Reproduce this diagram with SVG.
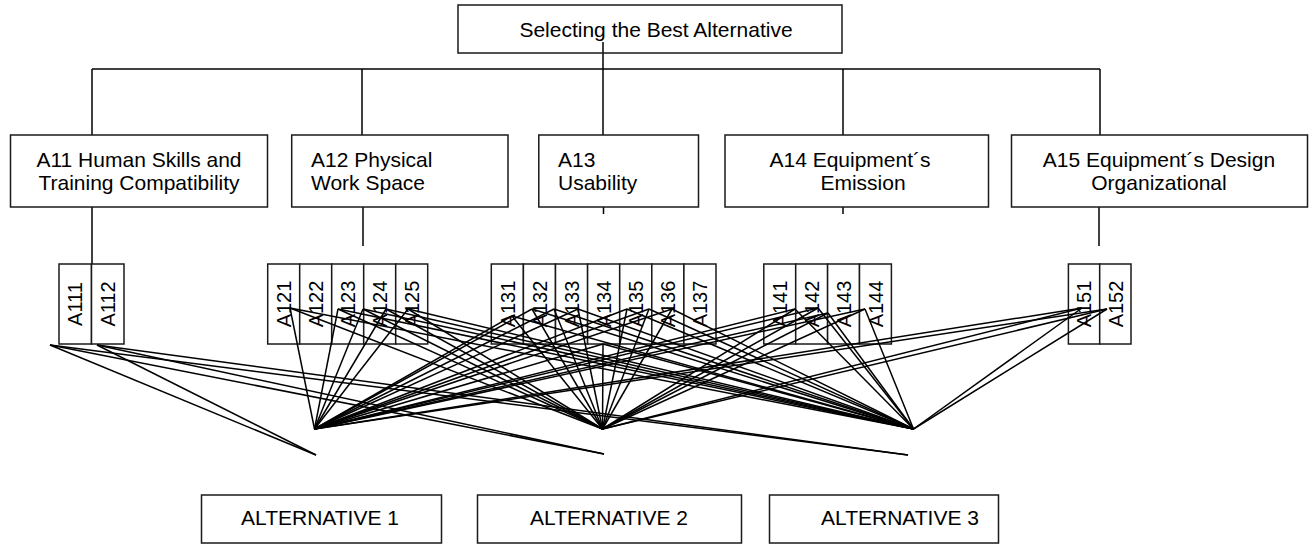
<svg xmlns="http://www.w3.org/2000/svg" width="1309" height="544" viewBox="0 0 1309 544">
  <style>
    .box { fill: #fff; stroke: #1a1a1a; stroke-width: 1.5; }
    .txt { font-family: "Liberation Sans", Arial, sans-serif; font-size: 21px; fill: #000; }
    .sub { font-family: "Liberation Sans", Arial, sans-serif; font-size: 20px; fill: #000; text-anchor: middle; }
    .tree line, .conn line { stroke: #000; stroke-width: 1.5; fill: none; }
  </style>
  <rect width="1309" height="544" fill="#fff"/>

  <!-- tree structure: goal to criteria -->
  <g class="tree">
    <line x1="603" y1="42" x2="603" y2="135"/>
    <line x1="92" y1="69" x2="1100" y2="69"/>
    <line x1="92" y1="69" x2="92" y2="135"/>
    <line x1="362" y1="69" x2="362" y2="135"/>
    <line x1="843" y1="69" x2="843" y2="135"/>
    <line x1="1100" y1="69" x2="1100" y2="135"/>
    <line x1="92" y1="207" x2="92" y2="264"/>
    <line x1="363" y1="207" x2="363" y2="246"/>
    <line x1="603.5" y1="207" x2="603.5" y2="214"/>
    <line x1="843" y1="207" x2="843" y2="214"/>
    <line x1="1099" y1="207" x2="1099" y2="246"/>
  </g>

  <g id="goal">
    <rect class="box" x="458" y="5" width="384" height="48" style="fill:none"/>
    <text class="txt" x="656" y="37" font-size="20" text-anchor="middle">Selecting the Best Alternative</text>
  </g>

  <g id="a11">
    <rect class="box" x="10.5" y="135" width="257" height="72"/>
    <text class="txt" x="139" y="166.5" text-anchor="middle">A11 Human Skills and</text>
    <text class="txt" x="139" y="189.5" text-anchor="middle">Training Compatibility</text>
  </g>
  <g id="a12">
    <rect class="box" x="291.7" y="135" width="216.3" height="72"/>
    <text class="txt" x="311" y="166.5">A12 Physical</text>
    <text class="txt" x="311" y="189.5">Work Space</text>
  </g>
  <g id="a13">
    <rect class="box" x="538.8" y="135" width="159.7" height="72"/>
    <text class="txt" x="558" y="166.5">A13</text>
    <text class="txt" x="558" y="189.5">Usability</text>
  </g>
  <g id="a14">
    <rect class="box" x="725" y="135" width="263.5" height="72"/>
    <text class="txt" x="850" y="166.5" text-anchor="middle">A14 Equipment´s</text>
    <text class="txt" x="863" y="189.5" text-anchor="middle">Emission</text>
  </g>
  <g id="a15">
    <rect class="box" x="1011.5" y="135" width="296" height="72"/>
    <text class="txt" x="1159" y="166.5" text-anchor="middle">A15 Equipment´s Design</text>
    <text class="txt" x="1159" y="189.5" text-anchor="middle">Organizational</text>
  </g>

  <!-- sub-criteria cells -->
  <g id="a111"><rect class="box" x="59" y="264" width="32.5" height="80"/><text class="sub" transform="translate(82.4 304) rotate(-90)">A111</text></g>
  <g id="a112"><rect class="box" x="91.5" y="264" width="32.5" height="80"/><text class="sub" transform="translate(114.9 304) rotate(-90)">A112</text></g>

  <g id="a121"><rect class="box" x="267.7" y="264" width="32" height="80"/><text class="sub" transform="translate(290.8 304) rotate(-90)">A121</text></g>
  <g id="a122"><rect class="box" x="299.7" y="264" width="32" height="80"/><text class="sub" transform="translate(322.8 304) rotate(-90)">A122</text></g>
  <g id="a123"><rect class="box" x="331.7" y="264" width="32" height="80"/><text class="sub" transform="translate(354.8 304) rotate(-90)">A123</text></g>
  <g id="a124"><rect class="box" x="363.7" y="264" width="32" height="80"/><text class="sub" transform="translate(386.8 304) rotate(-90)">A124</text></g>
  <g id="a125"><rect class="box" x="395.7" y="264" width="32" height="80"/><text class="sub" transform="translate(418.8 304) rotate(-90)">A125</text></g>

  <g id="a131"><rect class="box" x="491.3" y="264" width="32.1" height="80"/><text class="sub" transform="translate(514.5 304) rotate(-90)">A131</text></g>
  <g id="a132"><rect class="box" x="523.4" y="264" width="32.1" height="80"/><text class="sub" transform="translate(546.6 304) rotate(-90)">A132</text></g>
  <g id="a133"><rect class="box" x="555.5" y="264" width="32.1" height="80"/><text class="sub" transform="translate(578.7 304) rotate(-90)">A133</text></g>
  <g id="a134"><rect class="box" x="587.6" y="264" width="32.1" height="80"/><text class="sub" transform="translate(610.8 304) rotate(-90)">A134</text></g>
  <g id="a135"><rect class="box" x="619.7" y="264" width="32.1" height="80"/><text class="sub" transform="translate(642.9 304) rotate(-90)">A135</text></g>
  <g id="a136"><rect class="box" x="651.8" y="264" width="32.1" height="80"/><text class="sub" transform="translate(675 304) rotate(-90)">A136</text></g>
  <g id="a137"><rect class="box" x="683.9" y="264" width="32.1" height="80"/><text class="sub" transform="translate(707.1 304) rotate(-90)">A137</text></g>

  <g id="a141"><rect class="box" x="763.8" y="264" width="31.9" height="80"/><text class="sub" transform="translate(786.9 304) rotate(-90)">A141</text></g>
  <g id="a142"><rect class="box" x="795.7" y="264" width="31.9" height="80"/><text class="sub" transform="translate(818.8 304) rotate(-90)">A142</text></g>
  <g id="a143"><rect class="box" x="827.6" y="264" width="31.9" height="80"/><text class="sub" transform="translate(850.7 304) rotate(-90)">A143</text></g>
  <g id="a144"><rect class="box" x="859.5" y="264" width="31.9" height="80"/><text class="sub" transform="translate(882.6 304) rotate(-90)">A144</text></g>

  <g id="a151"><rect class="box" x="1068.4" y="264" width="31.3" height="80"/><text class="sub" transform="translate(1091.2 304) rotate(-90)">A151</text></g>
  <g id="a152"><rect class="box" x="1099.7" y="264" width="31.3" height="80"/><text class="sub" transform="translate(1122.5 304) rotate(-90)">A152</text></g>

  <!-- sub-criteria to alternatives -->
  <g class="conn">
    <!-- A111, A112 -->
    <line x1="50" y1="345" x2="316" y2="455"/>
    <line x1="50" y1="345" x2="604" y2="454"/>
    <line x1="50" y1="345" x2="908" y2="455"/>
    <line x1="97" y1="345" x2="316" y2="455"/>
    <line x1="97" y1="345" x2="604" y2="454"/>
    <line x1="97" y1="345" x2="908" y2="455"/>
    <!-- A121..A125 -->
    <line x1="290" y1="308" x2="314.5" y2="429"/>
    <line x1="290" y1="308" x2="602.5" y2="429"/>
    <line x1="290" y1="308" x2="913.5" y2="429"/>
    <line x1="338" y1="309" x2="314.5" y2="429"/>
    <line x1="338" y1="309" x2="602.5" y2="429"/>
    <line x1="338" y1="309" x2="913.5" y2="429"/>
    <line x1="363" y1="309" x2="314.5" y2="429"/>
    <line x1="363" y1="309" x2="602.5" y2="429"/>
    <line x1="363" y1="309" x2="913.5" y2="429"/>
    <line x1="386" y1="309" x2="314.5" y2="429"/>
    <line x1="386" y1="309" x2="602.5" y2="429"/>
    <line x1="386" y1="309" x2="913.5" y2="429"/>
    <line x1="408" y1="309" x2="314.5" y2="429"/>
    <line x1="408" y1="309" x2="602.5" y2="429"/>
    <line x1="408" y1="309" x2="913.5" y2="429"/>
    <!-- A131..A137 -->
    <line x1="512" y1="316" x2="314.5" y2="429"/>
    <line x1="512" y1="316" x2="602.5" y2="429"/>
    <line x1="512" y1="316" x2="913.5" y2="429"/>
    <line x1="532" y1="309" x2="314.5" y2="429"/>
    <line x1="532" y1="309" x2="602.5" y2="429"/>
    <line x1="532" y1="309" x2="913.5" y2="429"/>
    <line x1="554" y1="309" x2="314.5" y2="429"/>
    <line x1="554" y1="309" x2="602.5" y2="429"/>
    <line x1="554" y1="309" x2="913.5" y2="429"/>
    <line x1="578" y1="309" x2="314.5" y2="429"/>
    <line x1="578" y1="309" x2="602.5" y2="429"/>
    <line x1="578" y1="309" x2="913.5" y2="429"/>
    <line x1="603" y1="344" x2="314.5" y2="429"/>
    <line x1="603" y1="344" x2="602.5" y2="429"/>
    <line x1="603" y1="344" x2="913.5" y2="429"/>
    <line x1="627" y1="309" x2="314.5" y2="429"/>
    <line x1="627" y1="309" x2="602.5" y2="429"/>
    <line x1="627" y1="309" x2="913.5" y2="429"/>
    <line x1="649" y1="309" x2="314.5" y2="429"/>
    <line x1="649" y1="309" x2="602.5" y2="429"/>
    <line x1="649" y1="309" x2="913.5" y2="429"/>
    <line x1="672" y1="309" x2="314.5" y2="429"/>
    <line x1="672" y1="309" x2="602.5" y2="429"/>
    <line x1="672" y1="309" x2="913.5" y2="429"/>
    <!-- A141..A144 -->
    <line x1="795" y1="309" x2="314.5" y2="429"/>
    <line x1="795" y1="309" x2="602.5" y2="429"/>
    <line x1="795" y1="309" x2="913.5" y2="429"/>
    <line x1="818" y1="308" x2="314.5" y2="429"/>
    <line x1="818" y1="308" x2="602.5" y2="429"/>
    <line x1="818" y1="308" x2="913.5" y2="429"/>
    <line x1="828" y1="313" x2="314.5" y2="429"/>
    <line x1="828" y1="313" x2="602.5" y2="429"/>
    <line x1="828" y1="313" x2="913.5" y2="429"/>
    <line x1="865" y1="309" x2="314.5" y2="429"/>
    <line x1="865" y1="309" x2="602.5" y2="429"/>
    <line x1="865" y1="309" x2="913.5" y2="429"/>
    <!-- A151, A152 -->
    <line x1="1082" y1="308" x2="314.5" y2="429"/>
    <line x1="1082" y1="308" x2="602.5" y2="429"/>
    <line x1="1082" y1="308" x2="913.5" y2="429"/>
    <line x1="1107" y1="309" x2="314.5" y2="429"/>
    <line x1="1107" y1="309" x2="602.5" y2="429"/>
    <line x1="1107" y1="309" x2="913.5" y2="429"/>
  </g>

  <!-- alternatives -->
  <g id="alt1">
    <rect class="box" x="201.5" y="495" width="240" height="48"/>
    <text class="txt" x="320" y="525" text-anchor="middle">ALTERNATIVE 1</text>
  </g>
  <g id="alt2">
    <rect class="box" x="477.5" y="495" width="264" height="48"/>
    <text class="txt" x="609" y="525" text-anchor="middle">ALTERNATIVE 2</text>
  </g>
  <g id="alt3">
    <rect class="box" x="769.5" y="495" width="229" height="48"/>
    <text class="txt" x="821" y="525">ALTERNATIVE 3</text>
  </g>
</svg>
